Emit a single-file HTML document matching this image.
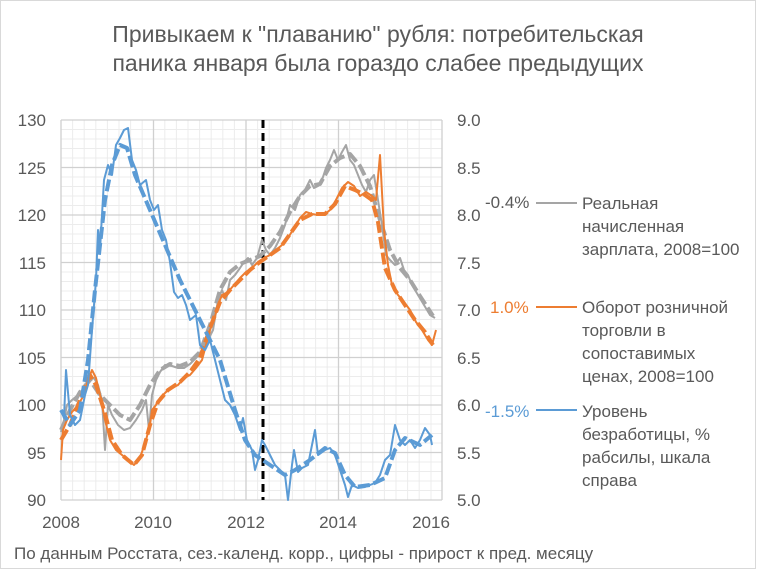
<!DOCTYPE html>
<html><head><meta charset="utf-8"><style>
body{margin:0;background:#fff;}
svg text{font-family:"Liberation Sans","DejaVu Sans",sans-serif;fill:#595959;}
</style></head><body>
<svg width="757" height="570" xmlns="http://www.w3.org/2000/svg">
<rect x="0.5" y="0.5" width="755" height="568" fill="#fff" stroke="#d9d9d9"/>
<text x="378" y="42" font-size="23" text-anchor="middle">Привыкаем к "плаванию" рубля: потребительская</text>
<text x="378" y="71" font-size="23" text-anchor="middle">паника января была гораздо слабее предыдущих</text>
<g stroke="#ececec" stroke-width="1">
<path d="M61,129.5H442M61,139H442M61,148.5H442M61,158H442M61,177H442M61,186.5H442M61,196H442M61,205.5H442M61,224.5H442M61,234H442M61,243.5H442M61,253H442M61,272H442M61,281.5H442M61,291H442M61,300.5H442M61,319.5H442M61,329H442M61,338.5H442M61,348H442M61,367H442M61,376.5H442M61,386H442M61,395.5H442M61,414.5H442M61,424H442M61,433.5H442M61,443H442M61,462H442M61,471.5H442M61,481H442M61,490.5H442"/>
<path d="M72.6,120V500M84.2,120V500M95.8,120V500M107.4,120V500M119,120V500M130.6,120V500M142.2,120V500M164.8,120V500M176.4,120V500M188,120V500M199.6,120V500M211.2,120V500M222.8,120V500M234.4,120V500M257.6,120V500M269.2,120V500M280.8,120V500M292.4,120V500M304,120V500M315.6,120V500M327.2,120V500M349.6,120V500M361.2,120V500M372.8,120V500M384.4,120V500M396,120V500M407.6,120V500M419.2,120V500M431,120V500"/>
</g>
<g stroke="#d0d0d0" stroke-width="1.3">
<path d="M61,120H442M61,167.5H442M61,215H442M61,262.5H442M61,310H442M61,357.5H442M61,405H442M61,452.5H442M61,500H442"/>
<path d="M61,120V500M153.5,120V500M246,120V500M338.5,120V500M442,120V500"/>
</g>
<line x1="263" y1="120" x2="263" y2="500" stroke="#000" stroke-width="3" stroke-dasharray="8,5"/>
<g font-size="17" text-anchor="end">
<text x="46" y="126">130</text><text x="46" y="174">125</text><text x="46" y="221">120</text><text x="46" y="269">115</text><text x="46" y="316">110</text><text x="46" y="364">105</text><text x="46" y="411">100</text><text x="46" y="459">95</text><text x="46" y="506">90</text>
</g>
<g font-size="17">
<text x="457" y="126">9.0</text><text x="457" y="174">8.5</text><text x="457" y="221">8.0</text><text x="457" y="269">7.5</text><text x="457" y="316">7.0</text><text x="457" y="364">6.5</text><text x="457" y="411">6.0</text><text x="457" y="459">5.5</text><text x="457" y="506">5.0</text>
</g>
<g font-size="17" text-anchor="middle">
<text x="61" y="528">2008</text><text x="153" y="528">2010</text><text x="246" y="528">2012</text><text x="338" y="528">2014</text><text x="431" y="528">2016</text>
</g>
<g fill="none" stroke-linejoin="round">
<polyline stroke="#a5a5a5" stroke-width="2" points="61,432 64,420 67,405 72,400 78,395 84,388 90,380 94,378 98,385 102,400 105,450 108,405 112,415 118,425 124,430 130,428 136,420 142,410 146,400 149,430 152,395 156,380 160,372 165,365 172,366 178,368 184,368 190,364 196,358 202,350 208,340 213,330 218,300 222,290 226,300 230,280 235,275 240,268 244,262 248,258 252,265 257,258 262,240 266,250 270,255 275,248 280,238 285,225 290,205 295,210 300,195 305,190 310,180 314,188 318,186 322,180 326,168 330,160 334,150 338,160 342,152 346,145 350,160 354,165 358,175 362,185 366,192 370,180 374,175 378,200 382,225 386,255 390,260 395,265 400,258 404,270 408,275 412,285 418,295 424,305 430,315 435,318"/>
<polyline stroke="#a5a5a5" stroke-width="4" stroke-dasharray="12,4" points="61,430 70,410 80,392 90,380 100,395 110,405 120,415 130,420 140,405 150,385 160,370 170,364 180,366 190,362 200,352 210,325 220,290 230,272 240,264 250,260 260,256 270,246 280,232 290,212 300,196 310,186 320,184 330,166 340,158 350,154 360,166 370,186 380,220 390,250 400,268 410,280 420,296 433,316"/>
<polyline stroke="#ed7d31" stroke-width="2" points="61,460 63,430 67,420 72,412 78,405 84,395 88,380 92,370 96,378 100,395 105,420 110,440 116,450 122,455 128,460 134,465 140,458 146,440 150,425 152,410 156,405 160,398 166,392 172,388 178,385 184,378 190,375 196,368 202,360 206,345 210,330 214,320 218,305 222,295 228,292 234,285 240,278 246,272 252,268 258,262 264,258 270,255 276,250 282,245 288,238 294,228 300,218 306,212 312,214 318,215 324,215 330,210 336,200 342,188 348,182 354,186 360,196 366,192 372,196 376,200 380,155 384,230 388,265 392,285 398,295 404,302 410,310 416,322 422,330 428,340 432,345 436,330"/>
<polyline stroke="#ed7d31" stroke-width="4" stroke-dasharray="12,4" points="61,440 70,425 80,400 90,375 96,385 104,410 112,440 122,455 134,465 142,455 150,425 158,402 168,390 180,382 190,372 200,358 210,328 220,302 230,290 240,280 250,270 260,262 270,255 280,248 290,234 300,220 312,214 325,214 335,204 345,186 355,190 365,195 372,200 378,222 385,268 395,290 405,305 415,320 425,332 433,345"/>
<polyline stroke="#5b9bd5" stroke-width="2" points="61,410 64,418 66,370 70,415 75,425 80,420 85,395 88,385 92,330 96,280 98,230 100,250 104,180 108,165 112,175 116,145 120,138 124,130 128,128 132,160 136,170 140,185 146,180 150,200 154,210 158,205 162,230 166,240 170,262 174,292 178,298 182,295 186,305 190,320 196,315 200,345 205,350 210,340 215,360 220,380 225,400 230,405 235,415 240,430 243,418 247,440 252,450 255,470 258,460 262,440 265,445 270,455 275,465 280,470 285,475 288,500 292,465 294,450 298,472 302,468 308,465 312,445 315,430 318,455 325,450 330,448 335,455 340,470 345,485 348,497 352,485 358,488 365,487 370,485 375,483 380,475 385,460 390,455 395,425 400,440 405,445 410,440 415,448 420,440 425,428 430,435 432,445"/>
<polyline stroke="#5b9bd5" stroke-width="4" stroke-dasharray="12,4" points="61,410 70,425 80,410 88,360 95,290 105,200 112,165 120,145 127,148 135,175 150,210 165,245 180,280 200,320 220,360 235,410 245,440 255,455 270,465 285,475 295,470 310,460 325,448 335,453 345,475 355,487 370,485 385,478 395,450 405,438 420,445 432,435"/>
</g>
<g font-size="17">
<text x="485" y="208">-0.4%</text>
<text x="490" y="313" style="fill:#ed7d31">1.0%</text>
<text x="485" y="417" style="fill:#5b9bd5">-1.5%</text>
<line x1="536" y1="203" x2="577" y2="203" stroke="#a5a5a5" stroke-width="2"/>
<line x1="536" y1="307" x2="577" y2="307" stroke="#ed7d31" stroke-width="2"/>
<line x1="536" y1="410" x2="577" y2="410" stroke="#5b9bd5" stroke-width="2"/>
<text x="582" y="209">Реальная</text><text x="582" y="232">начисленная</text><text x="582" y="255">зарплата, 2008=100</text>
<text x="582" y="313">Оборот розничной</text><text x="582" y="336">торговли в</text><text x="582" y="359">сопоставимых</text><text x="582" y="382">ценах, 2008=100</text>
<text x="582" y="417">Уровень</text><text x="582" y="440">безработицы, %</text><text x="582" y="463">рабсилы, шкала</text><text x="582" y="486">справа</text>
</g>
<text x="14" y="559" font-size="17">По данным Росстата, сез.-календ. корр., цифры - прирост к пред. месяцу</text>
</svg>
</body></html>
